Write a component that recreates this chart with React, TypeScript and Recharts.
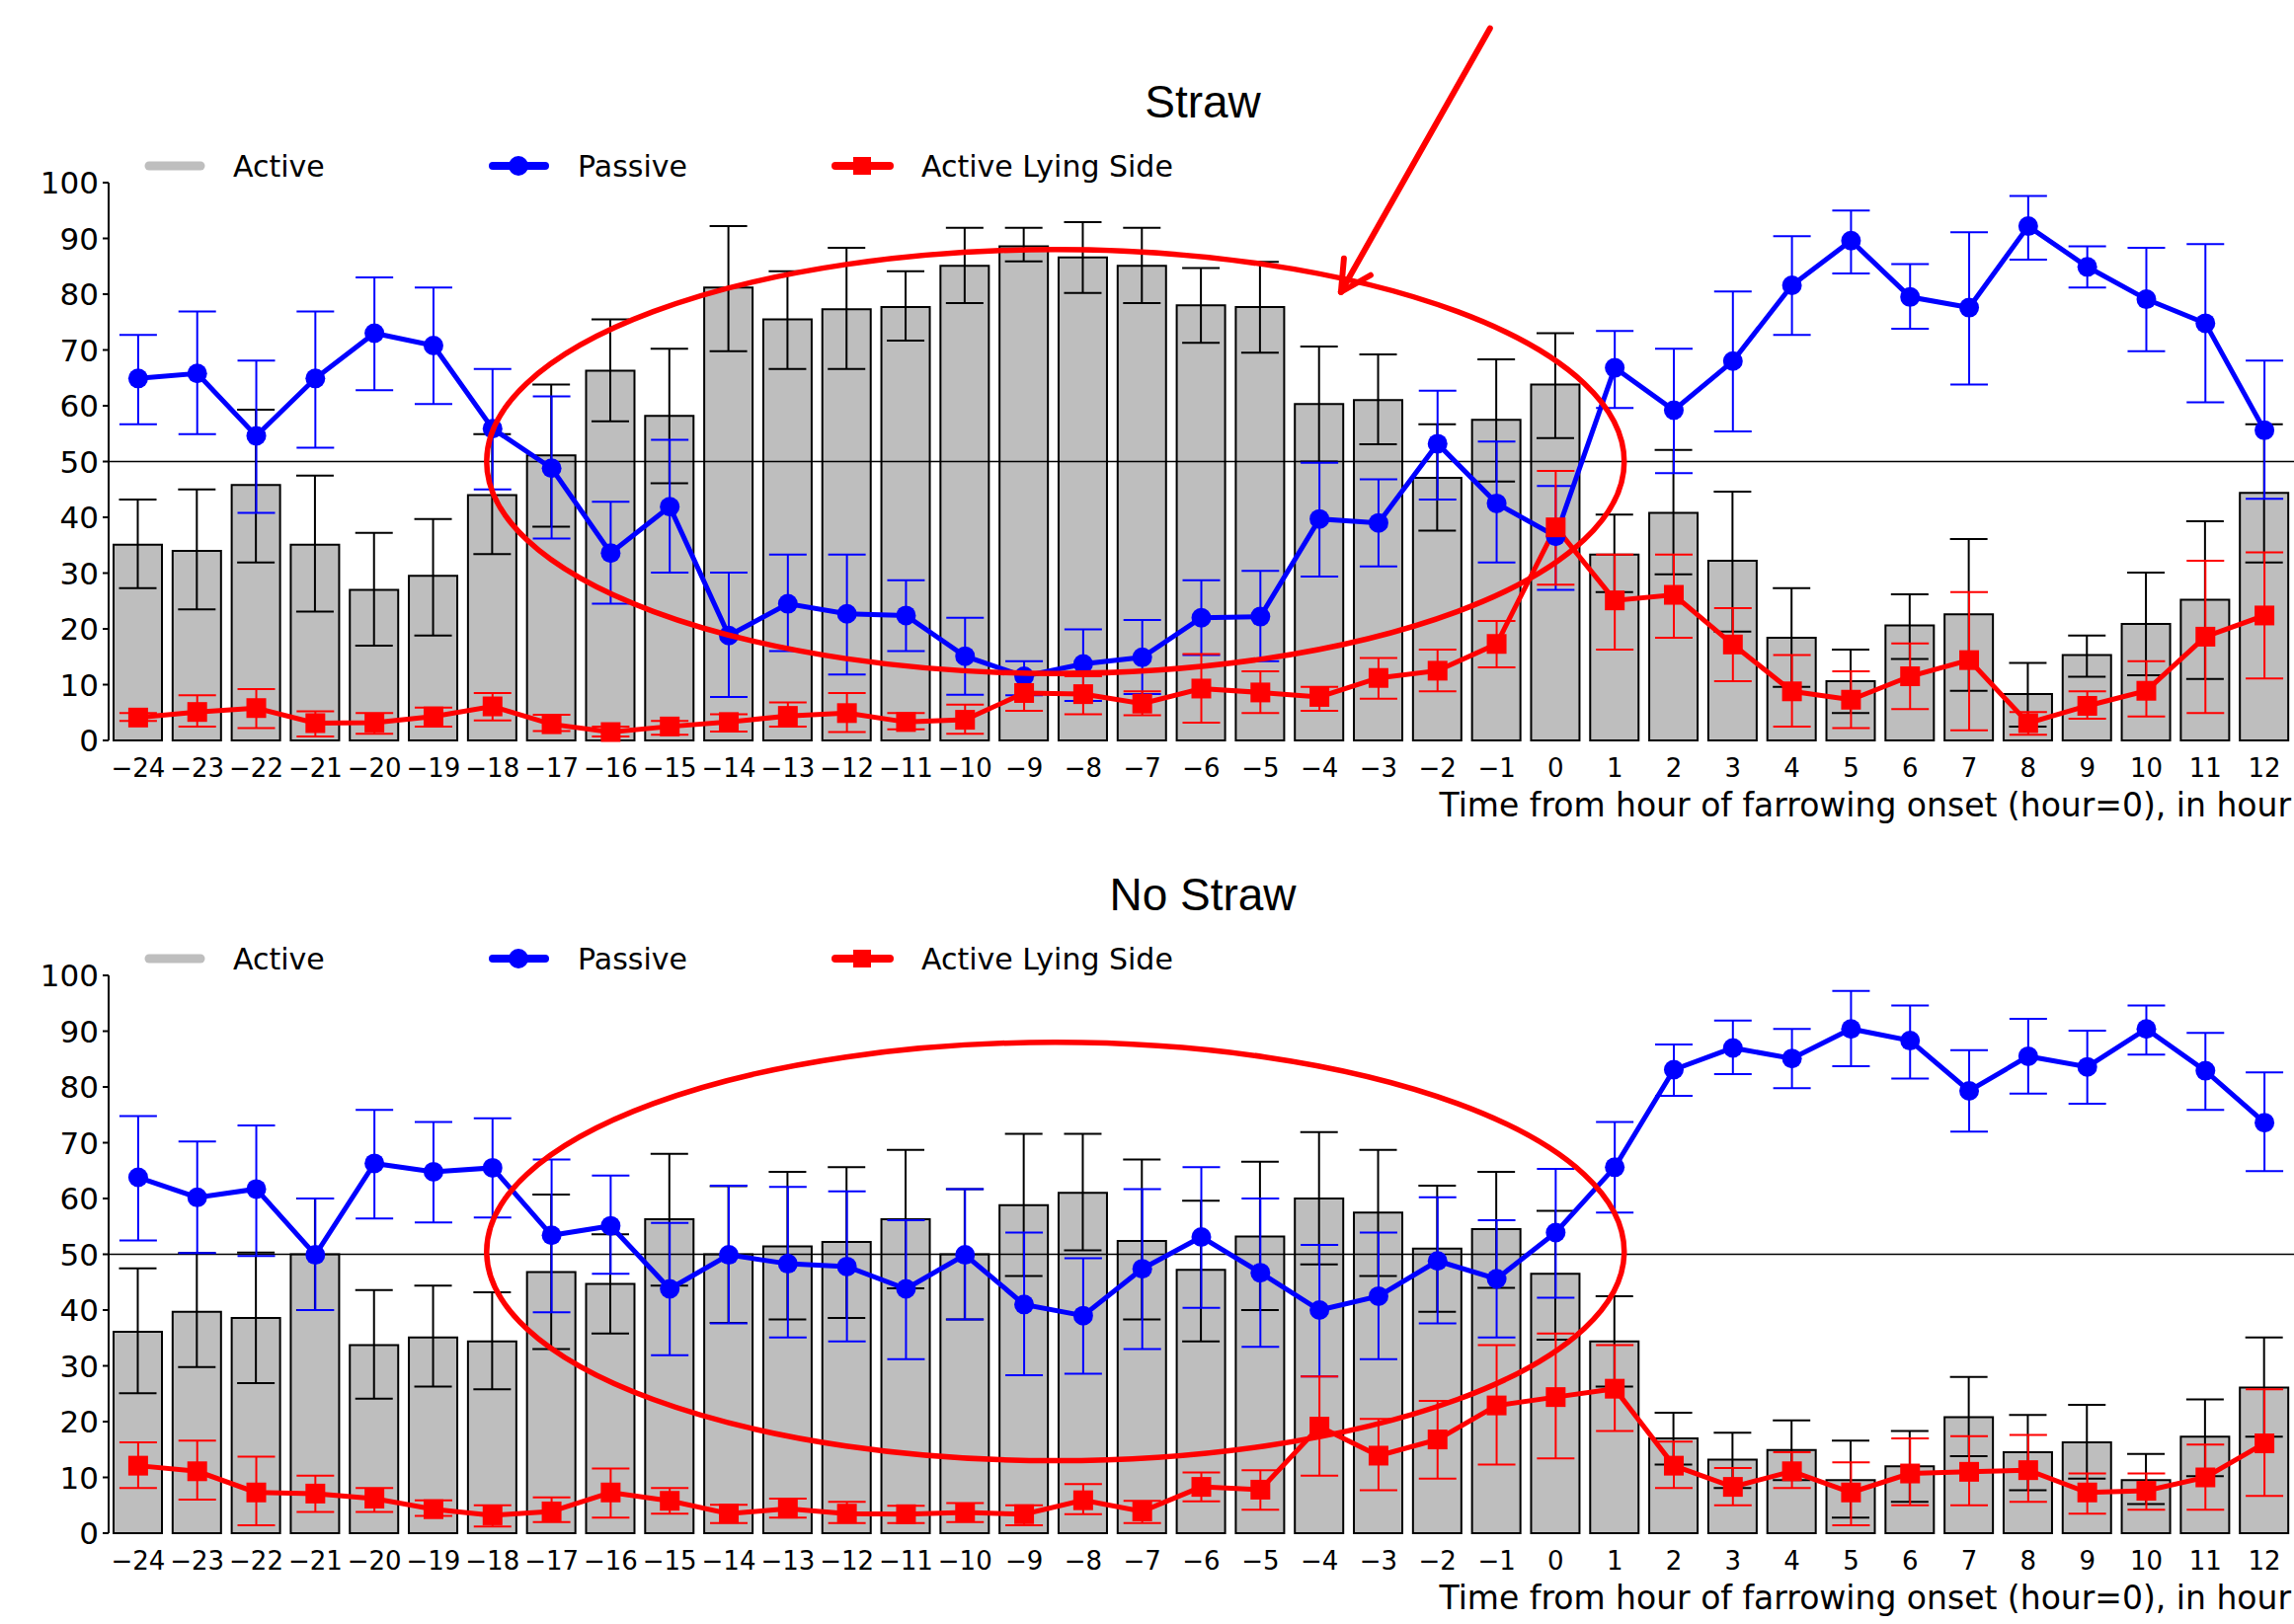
import React from 'react';
import {
  ComposedChart,
  Bar,
  Line,
  ErrorBar,
  XAxis,
  YAxis,
  ReferenceLine,
  ReferenceArea,
} from 'recharts';

// ---------- data ----------
const hours = [
  -24, -23, -22, -21, -20, -19, -18, -17, -16, -15, -14, -13, -12, -11, -10, -9, -8, -7, -6, -5, -4, -3, -2, -1,
  0, 1, 2, 3, 4, 5, 6, 7, 8, 9, 10, 11, 12,
];
const yTicks = [0, 10, 20, 30, 40, 50, 60, 70, 80, 90, 100];

// Straw panel
const strawActive = [35.1, 34.0, 45.8, 35.1, 27.0, 29.5, 44.0, 51.1, 66.3, 58.2, 81.2, 75.5, 77.3, 77.7, 85.1, 88.6, 86.6, 85.1, 78.0, 77.7, 60.3, 61.0, 47.1, 57.5, 63.8, 33.3, 40.8, 32.2, 18.4, 10.6, 20.6, 22.6, 8.3, 15.3, 20.9, 25.2, 44.4];
const strawActiveLow = [27.3, 23.5, 31.9, 23.1, 17.0, 18.8, 33.4, 38.3, 57.2, 46.1, 69.8, 66.6, 66.6, 71.7, 78.4, 85.9, 80.2, 78.4, 71.3, 69.5, 50.0, 53.1, 37.6, 46.4, 54.2, 26.6, 29.8, 19.5, 9.6, 4.9, 14.6, 8.9, 2.5, 11.4, 11.7, 11.0, 31.9];
const strawActiveHigh = [43.2, 45.0, 59.3, 47.5, 37.2, 39.7, 54.9, 63.8, 75.5, 70.2, 92.2, 84.1, 88.3, 84.1, 91.9, 91.9, 92.9, 91.9, 84.7, 85.8, 70.6, 69.2, 56.7, 68.3, 73.0, 40.5, 52.1, 44.6, 27.3, 16.3, 26.2, 36.1, 13.9, 18.8, 30.1, 39.3, 56.7];
const strawPassive = [64.9, 65.8, 54.6, 64.9, 73.0, 70.8, 55.9, 48.8, 33.6, 41.9, 18.8, 24.5, 22.7, 22.4, 15.1, 11.5, 13.7, 14.9, 22.0, 22.2, 39.7, 39.0, 53.2, 42.5, 36.6, 66.8, 59.2, 68.0, 81.6, 89.6, 79.5, 77.6, 92.2, 84.9, 79.1, 74.8, 55.6];
const strawPassiveLow = [56.7, 54.9, 40.8, 52.5, 62.8, 60.3, 45.0, 36.2, 24.5, 30.1, 7.8, 16.0, 11.8, 16.0, 8.2, 8.1, 7.1, 8.3, 15.3, 14.2, 29.4, 31.2, 43.2, 31.9, 27.0, 59.6, 47.9, 55.4, 72.7, 83.7, 73.8, 63.8, 86.2, 81.2, 69.8, 60.6, 43.3];
const strawPassiveHigh = [72.7, 76.9, 68.1, 76.9, 83.0, 81.2, 66.6, 61.7, 42.8, 53.9, 30.1, 33.3, 33.3, 28.7, 22.0, 14.2, 19.9, 21.6, 28.7, 30.4, 49.8, 46.8, 62.7, 53.6, 45.6, 73.4, 70.2, 80.5, 90.4, 95.0, 85.4, 91.1, 97.6, 88.6, 88.3, 89.0, 68.1];
const strawLying = [4.1, 5.1, 5.8, 3.1, 3.2, 4.3, 6.1, 2.9, 1.5, 2.5, 3.3, 4.4, 4.9, 3.3, 3.7, 8.5, 8.3, 6.6, 9.3, 8.6, 7.8, 11.2, 12.5, 17.3, 38.2, 25.1, 26.1, 17.2, 8.8, 7.3, 11.5, 14.4, 3.1, 6.2, 8.9, 18.6, 22.4];
const strawLyingLow = [3.5, 2.5, 2.2, 0.7, 1.2, 2.5, 3.6, 1.7, 0.7, 1.0, 1.6, 2.5, 1.5, 2.0, 1.2, 5.3, 4.7, 4.5, 3.2, 4.9, 5.3, 7.5, 8.8, 13.1, 27.9, 16.3, 18.4, 10.6, 2.5, 2.2, 5.6, 1.8, 1.0, 3.9, 4.3, 4.9, 11.1];
const strawLyingHigh = [4.9, 8.1, 9.2, 5.2, 4.9, 5.9, 8.5, 4.6, 2.5, 3.5, 4.7, 6.8, 8.5, 4.9, 6.4, 11.9, 11.5, 8.8, 15.5, 12.4, 9.6, 14.8, 16.3, 21.4, 48.3, 33.3, 33.3, 23.7, 15.3, 12.4, 17.4, 26.6, 5.1, 8.8, 14.2, 32.2, 33.7];

// No Straw panel
const noStrawActive = [36.1, 39.7, 38.6, 50.0, 33.7, 35.1, 34.4, 46.8, 44.7, 56.3, 50.0, 51.4, 52.2, 56.3, 50.0, 58.8, 61.0, 52.4, 47.2, 53.2, 60.0, 57.5, 51.0, 54.5, 46.5, 34.4, 17.0, 13.2, 14.9, 9.5, 12.0, 20.8, 14.5, 16.3, 9.5, 17.3, 26.1];
const noStrawActiveLow = [25.1, 29.8, 26.9, 40.0, 24.1, 26.3, 25.8, 33.0, 35.8, 44.4, 37.7, 38.3, 38.6, 43.9, 38.3, 46.1, 50.7, 38.3, 34.4, 40.0, 48.2, 46.1, 39.7, 44.0, 34.7, 26.3, 12.3, 8.1, 9.5, 2.8, 5.6, 13.8, 7.7, 9.8, 5.2, 10.2, 17.3];
const noStrawActiveHigh = [47.5, 50.2, 50.3, 60.0, 43.6, 44.4, 43.2, 60.7, 53.6, 68.0, 62.2, 64.8, 65.6, 68.7, 61.7, 71.6, 71.6, 67.0, 59.6, 66.6, 71.9, 68.7, 62.3, 64.8, 57.8, 42.5, 21.6, 18.0, 20.2, 16.6, 18.3, 28.0, 21.2, 23.0, 14.2, 24.0, 35.1];
const noStrawPassive = [63.8, 60.2, 61.7, 49.9, 66.3, 64.8, 65.5, 53.4, 55.1, 43.8, 49.9, 48.3, 47.8, 43.8, 49.9, 41.0, 39.0, 47.4, 53.1, 46.7, 40.0, 42.5, 48.8, 45.6, 53.9, 65.6, 83.1, 87.0, 85.1, 90.4, 88.3, 79.3, 85.5, 83.6, 90.4, 82.9, 73.6];
const noStrawPassiveLow = [52.5, 50.2, 49.7, 40.0, 56.4, 55.7, 56.6, 39.6, 46.5, 31.9, 37.6, 35.1, 34.4, 31.2, 38.3, 28.3, 28.6, 33.0, 40.4, 33.4, 28.1, 31.2, 37.6, 35.1, 42.2, 57.5, 78.4, 82.3, 79.8, 83.7, 81.5, 72.0, 78.8, 77.0, 85.8, 75.9, 64.9];
const noStrawPassiveHigh = [74.8, 70.2, 73.1, 60.0, 75.9, 73.7, 74.4, 67.0, 64.1, 55.6, 62.3, 62.1, 61.3, 56.1, 61.7, 53.9, 49.3, 61.7, 65.6, 60.0, 51.7, 53.9, 60.2, 56.1, 65.3, 73.7, 87.6, 91.9, 90.4, 97.2, 94.6, 86.6, 92.2, 90.1, 94.6, 89.7, 82.6];
const noStrawLying = [12.1, 11.1, 7.3, 7.1, 6.2, 4.3, 3.2, 3.9, 7.3, 5.8, 3.5, 4.4, 3.5, 3.4, 3.7, 3.4, 5.9, 3.9, 8.3, 7.8, 19.1, 13.9, 16.8, 22.9, 24.4, 25.9, 12.1, 8.3, 11.1, 7.3, 10.7, 11.0, 11.3, 7.3, 7.6, 10.0, 16.1];
const noStrawLyingLow = [8.1, 6.0, 1.4, 3.8, 3.8, 3.1, 1.2, 2.0, 2.8, 3.5, 1.8, 2.8, 1.8, 1.8, 2.0, 1.4, 3.4, 1.8, 5.7, 4.2, 10.3, 7.7, 9.8, 12.3, 13.4, 18.3, 8.1, 5.0, 8.1, 1.4, 5.0, 5.0, 5.6, 3.5, 4.2, 4.2, 6.7];
const noStrawLyingHigh = [16.3, 16.6, 13.7, 10.3, 8.1, 5.9, 5.0, 6.4, 11.6, 8.1, 5.1, 6.2, 5.6, 4.9, 5.4, 5.0, 8.8, 5.8, 10.9, 11.3, 28.1, 20.5, 23.7, 33.7, 35.8, 33.7, 16.4, 11.7, 14.5, 12.7, 17.0, 17.4, 17.6, 10.7, 10.7, 15.9, 25.8];

// highlighted (circled) hour range and value range per panel
const strawCircle = { from: -18, to: 1, low: 12, high: 88 };
const noStrawCircle = { from: -18, to: 1, low: 13, high: 88 };

const legendLabels = ['Active', 'Passive', 'Active Lying Side'];
const axisTitle = 'Time from hour of farrowing onset (hour=0), in hour';

// ---------- helpers ----------
const W = 2323;
const H = 842;
const TICK_FONT = '"DejaVu Sans", "Liberation Sans", Arial, sans-serif';
const TITLE_FONT = '"Liberation Sans", Arial, sans-serif';
const BLUE = '#0000FF';
const RED = '#FF0000';
const GREY = '#BEBEBE';

const err = (v: number, lo: number, hi: number) => [Math.max(0, +(v - lo).toFixed(2)), Math.max(0, +(hi - v).toFixed(2))];

function buildRows(
  a: number[], aLo: number[], aHi: number[],
  p: number[], pLo: number[], pHi: number[],
  l: number[], lLo: number[], lHi: number[],
) {
  return hours.map((h, i) => ({
    hour: h,
    active: a[i],
    activeErr: err(a[i], aLo[i], aHi[i]),
    passive: p[i],
    passiveErr: err(p[i], pLo[i], pHi[i]),
    lying: l[i],
    lyingErr: err(l[i], lLo[i], lHi[i]),
  }));
}

const strawRows = buildRows(strawActive, strawActiveLow, strawActiveHigh, strawPassive, strawPassiveLow, strawPassiveHigh, strawLying, strawLyingLow, strawLyingHigh);
const noStrawRows = buildRows(noStrawActive, noStrawActiveLow, noStrawActiveHigh, noStrawPassive, noStrawPassiveLow, noStrawPassiveHigh, noStrawLying, noStrawLyingLow, noStrawLyingHigh);

const fmtHour = (v: any) => (Number(v) < 0 ? `\u2212${-Number(v)}` : `${v}`);

const SquareDot = (props: any) => {
  const { cx, cy, index } = props;
  if (cx == null || cy == null) return <g key={`sq-${index}`} />;
  return <rect key={`sq-${index}`} x={cx - 10} y={cy - 10} width={20} height={20} fill={RED} />;
};

function makeEllipseShape(bands: number, withArrow: boolean) {
  return (props: any) => {
    const { x, y, width, height } = props;
    const bw = width / bands;
    const left = x + bw * 0.4;
    const right = x + width - bw * 0.34;
    const cx = (left + right) / 2;
    const rx = (right - left) / 2;
    const cy = y + height / 2;
    const ry = height / 2;
    const tipX = cx + rx * 0.502;
    const tipY = cy - ry * 0.8;
    const tailX = tipX + rx * 0.262;
    const tailY = tipY - ry * 1.244;
    return (
      <g>
        <ellipse cx={cx} cy={cy} rx={rx} ry={ry} fill="none" stroke={RED} strokeWidth={5.5} />
        {withArrow && (
          <g stroke={RED} strokeWidth={6} strokeLinecap="round" fill="none">
            <line x1={tailX} y1={tailY} x2={tipX} y2={tipY} />
            <line x1={tipX} y1={tipY} x2={tipX + 3} y2={tipY - 34} />
            <line x1={tipX} y1={tipY} x2={tipX + 30} y2={tipY - 17} />
          </g>
        )}
      </g>
    );
  };
}

type PanelProps = {
  title: string;
  rows: any[];
  circle: { from: number; to: number; low: number; high: number };
  arrow: boolean;
  top: number;
};

function Panel({ title, rows, circle, arrow, top }: PanelProps) {
  const bands = hours.indexOf(circle.to) - hours.indexOf(circle.from) + 1;
  const areaProps: any = { zIndex: 2000 };
  return (
    <div style={{ position: 'absolute', left: 0, top, width: W, height: H }}>
      <ComposedChart
        width={W}
        height={H}
        data={rows}
        margin={{ top: 185, right: 0, bottom: 52, left: 0 }}
        style={{ fontFamily: TICK_FONT }}
      >
        <XAxis
          dataKey="hour"
          type="category"
          interval={0}
          axisLine={false}
          tickLine={false}
          tickSize={6}
          tickMargin={13}
          height={40}
          tick={{ fontSize: 26, fill: '#000', fontFamily: TICK_FONT }}
          tickFormatter={fmtHour}
        />
        <YAxis
          type="number"
          domain={[0, 100]}
          ticks={yTicks}
          interval={0}
          width={110}
          axisLine={{ stroke: '#000', strokeWidth: 2 }}
          tickLine={{ stroke: '#000', strokeWidth: 2 }}
          tickSize={6}
          tickMargin={4}
          tick={{ fontSize: 31, fill: '#000', fontFamily: TICK_FONT }}
        />
        <Bar dataKey="active" fill={GREY} stroke="#000" strokeWidth={2} barSize={49} isAnimationActive={false}>
          <ErrorBar dataKey="activeErr" stroke="#000" strokeWidth={2} width={19} />
        </Bar>
        <ReferenceLine y={50} stroke="#000" strokeWidth={1.6} />
        <Line
          type="linear"
          dataKey="passive"
          stroke={BLUE}
          strokeWidth={5}
          dot={{ r: 10, fill: BLUE, stroke: BLUE, strokeWidth: 0 }}
          activeDot={false}
          isAnimationActive={false}
        >
          <ErrorBar dataKey="passiveErr" stroke={BLUE} strokeWidth={2} width={19} />
        </Line>
        <Line
          type="linear"
          dataKey="lying"
          stroke={RED}
          strokeWidth={5}
          dot={SquareDot}
          activeDot={false}
          isAnimationActive={false}
        >
          <ErrorBar dataKey="lyingErr" stroke={RED} strokeWidth={2} width={19} />
        </Line>
        <ReferenceArea
          x1={circle.from}
          x2={circle.to}
          y1={circle.low}
          y2={circle.high}
          ifOverflow="visible"
          shape={makeEllipseShape(bands, arrow)}
          {...areaProps}
        />
      </ComposedChart>
      <svg
        width={W}
        height={H}
        style={{ position: 'absolute', left: 0, top: 0, pointerEvents: 'none' }}
      >
        <text x={1218} y={119} textAnchor="middle" fontSize={46} fontFamily={TITLE_FONT} fill="#000">
          {title}
        </text>
        {/* legend */}
        <line x1={151} x2={203} y1={168} y2={168} stroke={GREY} strokeWidth={9} strokeLinecap="round" />
        <text x={236} y={179} fontSize={30} fontFamily={TICK_FONT} fill="#000">{legendLabels[0]}</text>
        <line x1={499} x2={552} y1={168} y2={168} stroke={BLUE} strokeWidth={8} strokeLinecap="round" />
        <circle cx={525} cy={168} r={10} fill={BLUE} />
        <text x={585} y={179} fontSize={30} fontFamily={TICK_FONT} fill="#000">{legendLabels[1]}</text>
        <line x1={846} x2={901} y1={168} y2={168} stroke={RED} strokeWidth={8} strokeLinecap="round" />
        <rect x={864} y={159} width={18} height={18} fill={RED} />
        <text x={933} y={179} fontSize={30} fontFamily={TICK_FONT} fill="#000">{legendLabels[2]}</text>
        {/* x-axis title */}
        <text x={2320} y={827} textAnchor="end" fontSize={33} fontFamily={TICK_FONT} fill="#000">
          {axisTitle}
        </text>
      </svg>
    </div>
  );
}

export default function App() {
  return (
    <div style={{ position: 'absolute', left: 0, top: 0, width: W, height: 1645, background: '#fff', overflow: 'hidden' }}>
      <Panel title="Straw" rows={strawRows} circle={strawCircle} arrow={true} top={0} />
      <Panel title="No Straw" rows={noStrawRows} circle={noStrawCircle} arrow={false} top={803} />
    </div>
  );
}
